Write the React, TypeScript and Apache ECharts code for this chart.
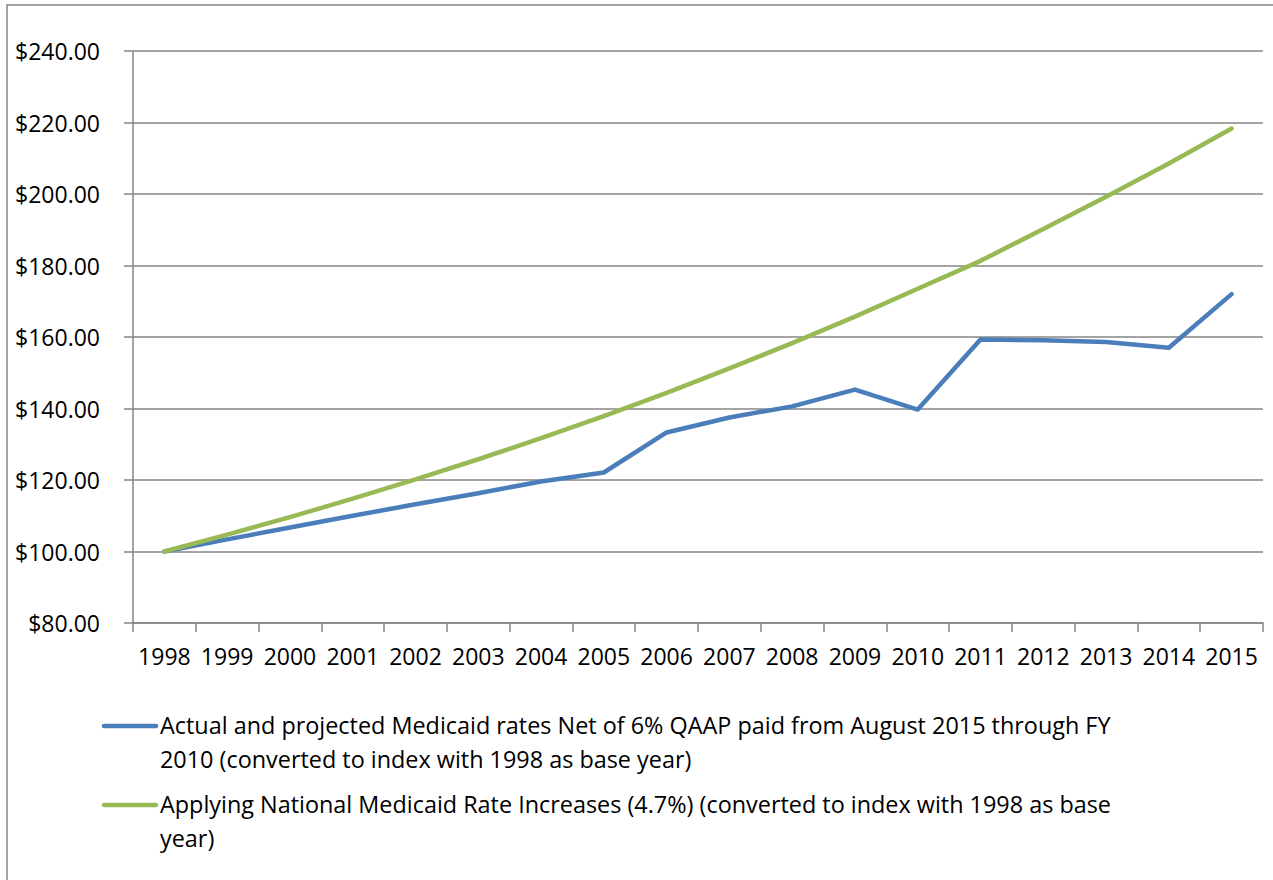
import React, { useEffect, useRef } from "react";
import * as echarts from "echarts";

const years = [
  "1998", "1999", "2000", "2001", "2002", "2003", "2004", "2005", "2006",
  "2007", "2008", "2009", "2010", "2011", "2012", "2013", "2014", "2015",
];

const actualRates = [
  100, 103.4, 106.7, 110.0, 113.2, 116.3, 119.6, 122.1, 133.3,
  137.5, 140.6, 145.3, 139.7, 159.3, 159.1, 158.6, 157.0, 172.0,
];

const nationalRates = [
  100, 104.7, 109.6, 114.8, 120.2, 125.8, 131.7, 137.9, 144.4,
  151.2, 158.3, 165.7, 173.5, 181.3, 190.2, 199.2, 208.5, 218.3,
];

const seriesNames = [
  "Actual and projected Medicaid rates Net of 6% QAAP paid from August 2015 through FY\n2010 (converted to index with 1998 as base year)",
  "Applying National Medicaid Rate Increases (4.7%) (converted to index with 1998 as base\nyear)",
];

const seriesColors = ["#4A7EBB", "#98B954"];

const yMin = 80;
const yMax = 240;
const yStep = 20;

const FONT = "'Open Sans', 'Liberation Sans', sans-serif";
const GRAY = "#868686";

export default function App() {
  const ref = useRef<HTMLDivElement>(null);

  useEffect(() => {
    const chart = echarts.init(ref.current as HTMLDivElement, null, { renderer: "svg" });
    const legendGraphics: any[] = [];
    const entryTops = [726, 805];
    seriesNames.forEach((name, i) => {
      const top = entryTops[i];
      legendGraphics.push({
        type: "line",
        shape: { x1: 104, y1: top, x2: 156, y2: top },
        style: { stroke: seriesColors[i], lineWidth: 4.5, lineCap: "round" },
      });
      name.split("\n").forEach((line, j) => {
        legendGraphics.push({
          type: "text",
          x: 160,
          y: top - 1 + j * 33.5,
          style: {
            text: line,
            font: `23.4px ${FONT}`,
            fill: "#000",
            textVerticalAlign: "middle",
          },
        });
      });
    });

    chart.setOption({
      animation: false,
      backgroundColor: "#fff",
      grid: { left: 133, right: 10, top: 51, bottom: 257, containLabel: false },
      xAxis: {
        type: "category",
        data: years,
        boundaryGap: true,
        axisLine: { show: true, lineStyle: { color: GRAY, width: 1.5 } },
        axisTick: { show: true, length: 9, alignWithLabel: false, interval: 0, lineStyle: { color: GRAY, width: 1.5 } },
        axisLabel: { color: "#000", fontFamily: FONT, fontSize: 23, margin: 21, interval: 0 },
        splitLine: { show: false },
      },
      yAxis: {
        type: "value",
        min: yMin,
        max: yMax,
        interval: yStep,
        axisLine: { show: true, lineStyle: { color: GRAY, width: 1.5 } },
        axisTick: { show: true, length: 9, lineStyle: { color: GRAY, width: 1.5 } },
        axisLabel: {
          color: "#000",
          fontFamily: FONT,
          fontSize: 23,
          margin: 33,
          formatter: (v: number) => "$" + v.toFixed(2),
        },
        splitLine: { show: true, lineStyle: { color: GRAY, width: 1.5 } },
      },
      series: [
        {
          name: seriesNames[0],
          type: "line",
          data: actualRates,
          symbol: "none",
          lineStyle: { color: seriesColors[0], width: 4.5, cap: "round", join: "round" },
          itemStyle: { color: seriesColors[0] },
          z: 3,
        },
        {
          name: seriesNames[1],
          type: "line",
          data: nationalRates,
          symbol: "none",
          lineStyle: { color: seriesColors[1], width: 4.5, cap: "round", join: "round" },
          itemStyle: { color: seriesColors[1] },
          z: 4,
        },
      ],
      graphic: [
        {
          type: "rect",
          shape: { x: 7, y: 5, width: 1400, height: 1000 },
          style: { fill: "none", stroke: "#878787", lineWidth: 1.5 },
          silent: true,
        },
        ...legendGraphics,
      ],
    });
    return () => chart.dispose();
  }, []);

  return (
    <div
      ref={ref}
      style={{ position: "fixed", left: 0, top: 0, width: 1273, height: 880, background: "#fff" }}
    />
  );
}
